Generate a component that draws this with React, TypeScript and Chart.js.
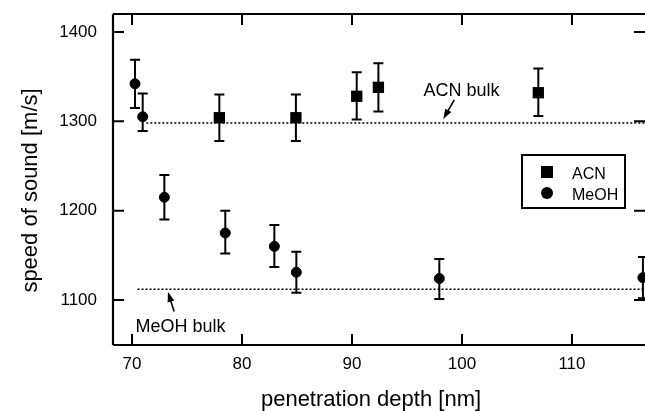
import React, { useEffect, useRef } from "react";
import { Chart, registerables } from "chart.js";
Chart.register(...registerables);

const X_TICKS = [70, 80, 90, 100, 110];
const Y_TICKS = [1100, 1200, 1300, 1400];
const X_MIN = 68.27;
const X_MAX = 116.64;
const Y_MIN = 1049.6;
const Y_MAX = 1420.1;

const ACN_X = [77.94, 84.9, 90.43, 92.4, 106.94];
const ACN_Y = [1304, 1304, 1328, 1338, 1332];
const ACN_HI = [1330, 1330, 1355, 1365, 1359];
const ACN_LO = [1278, 1278, 1302, 1311, 1306];

const MEOH_X = [70.27, 70.97, 72.94, 78.48, 82.94, 84.94, 97.94, 116.45];
const MEOH_Y = [1342, 1305, 1215, 1175, 1160, 1131, 1124, 1125];
const MEOH_HI = [1369, 1331, 1240, 1200, 1184, 1154, 1146, 1148];
const MEOH_LO = [1315, 1289, 1190, 1152, 1137, 1108, 1101, 1102];

const ACN_BULK_X = [71.3, 116.64];
const ACN_BULK_Y = [1298, 1298];
const MEOH_BULK_X = [70.5, 116.64];
const MEOH_BULK_Y = [1112, 1112];

const LABELS = ["ACN bulk", "MeOH bulk"];
const LABEL_X = [99.95, 74.41];
const LABEL_Y = [1328, 1063.8];
const ARROW_TAIL_X = [99.3, 73.82];
const ARROW_TAIL_Y = [1324, 1087];
const ARROW_TIP_X = [98.3, 73.27];
const ARROW_TIP_Y = [1302.5, 1109];

const SERIES = ["ACN", "MeOH"];
const X_TITLE = "penetration depth [nm]";
const Y_TITLE = "speed of sound [m/s]";

const FONT = "'Liberation Sans', Arial, Helvetica, sans-serif";

const decorPlugin = {
  id: "decor",
  beforeDatasetsDraw(chart: any) {
    const { ctx, chartArea: a, scales } = chart;
    const x = scales.x;
    const y = scales.y;
    ctx.save();
    ctx.beginPath();
    ctx.rect(a.left, a.top, a.right - a.left, a.bottom - a.top);
    ctx.clip();
    ctx.strokeStyle = "#000";
    ctx.lineWidth = 2;
    const bars = (xs: number[], lo: number[], hi: number[]) => {
      xs.forEach((xv, i) => {
        const px = x.getPixelForValue(xv);
        const p1 = y.getPixelForValue(lo[i]);
        const p2 = y.getPixelForValue(hi[i]);
        ctx.beginPath();
        ctx.moveTo(px, p1);
        ctx.lineTo(px, p2);
        ctx.moveTo(px - 5, p1);
        ctx.lineTo(px + 5, p1);
        ctx.moveTo(px - 5, p2);
        ctx.lineTo(px + 5, p2);
        ctx.stroke();
      });
    };
    bars(ACN_X, ACN_LO, ACN_HI);
    bars(MEOH_X, MEOH_LO, MEOH_HI);
    ctx.restore();
  },
  afterDraw(chart: any) {
    const { ctx, chartArea: a, scales } = chart;
    const x = scales.x;
    const y = scales.y;
    ctx.save();
    ctx.strokeStyle = "#000";
    ctx.fillStyle = "#000";
    // frame (right edge falls just outside the picture)
    ctx.lineWidth = 2.2;
    ctx.beginPath();
    ctx.moveTo(a.left, a.top);
    ctx.lineTo(a.right, a.top);
    ctx.moveTo(a.left, a.top);
    ctx.lineTo(a.left, a.bottom);
    ctx.moveTo(a.left, a.bottom);
    ctx.lineTo(a.right, a.bottom);
    ctx.stroke();
    // inward ticks
    ctx.lineWidth = 2;
    const tl = 11;
    X_TICKS.forEach((v) => {
      const px = x.getPixelForValue(v);
      ctx.beginPath();
      ctx.moveTo(px, a.bottom);
      ctx.lineTo(px, a.bottom - tl);
      ctx.moveTo(px, a.top);
      ctx.lineTo(px, a.top + tl);
      ctx.stroke();
    });
    Y_TICKS.forEach((v) => {
      const py = y.getPixelForValue(v);
      ctx.beginPath();
      ctx.moveTo(a.left, py);
      ctx.lineTo(a.left + tl, py);
      ctx.moveTo(a.right, py);
      ctx.lineTo(a.right - tl, py);
      ctx.stroke();
    });
    // annotations
    ctx.font = `18px ${FONT}`;
    ctx.textAlign = "center";
    ctx.textBaseline = "alphabetic";
    LABELS.forEach((t, i) => {
      ctx.fillText(t, x.getPixelForValue(LABEL_X[i]), y.getPixelForValue(LABEL_Y[i]));
      const tx = x.getPixelForValue(ARROW_TAIL_X[i]);
      const ty = y.getPixelForValue(ARROW_TAIL_Y[i]);
      const hx = x.getPixelForValue(ARROW_TIP_X[i]);
      const hy = y.getPixelForValue(ARROW_TIP_Y[i]);
      const ang = Math.atan2(hy - ty, hx - tx);
      const L = 10;
      const W = 3.5;
      ctx.lineWidth = 1.6;
      ctx.beginPath();
      ctx.moveTo(tx, ty);
      ctx.lineTo(hx - Math.cos(ang) * L * 0.7, hy - Math.sin(ang) * L * 0.7);
      ctx.stroke();
      ctx.beginPath();
      ctx.moveTo(hx, hy);
      ctx.lineTo(hx - Math.cos(ang) * L - Math.sin(ang) * W, hy - Math.sin(ang) * L + Math.cos(ang) * W);
      ctx.lineTo(hx - Math.cos(ang) * L + Math.sin(ang) * W, hy - Math.sin(ang) * L - Math.cos(ang) * W);
      ctx.closePath();
      ctx.fill();
    });
    // legend
    const lx = a.right - 123;
    const ly = a.top + 141;
    ctx.lineWidth = 2;
    ctx.strokeRect(lx, ly, 103, 53);
    ctx.fillRect(lx + 19, ly + 11, 12, 12);
    ctx.beginPath();
    ctx.arc(lx + 25, ly + 38, 6, 0, Math.PI * 2);
    ctx.fill();
    ctx.font = `16px ${FONT}`;
    ctx.textAlign = "left";
    ctx.fillText(SERIES[0], lx + 50, ly + 24);
    ctx.fillText(SERIES[1], lx + 50, ly + 45);
    // axis titles
    ctx.font = `22px ${FONT}`;
    ctx.textAlign = "center";
    ctx.fillText(X_TITLE, 371, 406);
    ctx.save();
    ctx.translate(37, 190.5);
    ctx.rotate(-Math.PI / 2);
    ctx.fillText(Y_TITLE, 0, 0);
    ctx.restore();
    ctx.restore();
  },
};

export default function App() {
  const ref = useRef<HTMLCanvasElement | null>(null);
  useEffect(() => {
    if (!ref.current) return;
    const chart = new Chart(ref.current, {
      type: "scatter",
      data: {
        datasets: [
          {
            label: "ACN bulk line",
            type: "line",
            data: ACN_BULK_X.map((v, i) => ({ x: v, y: ACN_BULK_Y[i] })),
            borderColor: "#000",
            borderWidth: 1.5,
            borderDash: [2, 2],
            pointRadius: 0,
            fill: false,
          } as any,
          {
            label: "MeOH bulk line",
            type: "line",
            data: MEOH_BULK_X.map((v, i) => ({ x: v, y: MEOH_BULK_Y[i] })),
            borderColor: "#000",
            borderWidth: 1.5,
            borderDash: [2, 2],
            pointRadius: 0,
            fill: false,
          } as any,
          {
            label: SERIES[0],
            data: ACN_X.map((v, i) => ({ x: v, y: ACN_Y[i] })),
            pointStyle: "rect",
            pointRadius: 8,
            backgroundColor: "#000",
            borderColor: "#000",
            borderWidth: 0,
          },
          {
            label: SERIES[1],
            data: MEOH_X.map((v, i) => ({ x: v, y: MEOH_Y[i] })),
            pointStyle: "circle",
            pointRadius: 5,
            backgroundColor: "#000",
            borderColor: "#000",
            borderWidth: 1,
          },
        ],
      },
      options: {
        animation: false,
        responsive: false,
        maintainAspectRatio: false,
        layout: { autoPadding: false, padding: { top: 14, right: 0, left: 0, bottom: 0 } },
        plugins: { legend: { display: false }, tooltip: { enabled: false } },
        scales: {
          x: {
            type: "linear",
            min: X_MIN,
            max: X_MAX,
            afterFit: (s: any) => {
              s.height = 66;
              s.paddingLeft = 0;
              s.paddingRight = 0;
            },
            afterBuildTicks: (s: any) => {
              s.ticks = X_TICKS.map((v) => ({ value: v }));
            },
            grid: { display: false, drawTicks: false },
            border: { display: false },
            ticks: {
              padding: 9,
              color: "#000",
              font: { family: FONT, size: 17 },
              callback: (v: any) => String(v),
            },
          },
          y: {
            type: "linear",
            min: Y_MIN,
            max: Y_MAX,
            afterFit: (s: any) => {
              s.width = 113;
              s.paddingTop = 0;
              s.paddingBottom = 0;
            },
            afterBuildTicks: (s: any) => {
              s.ticks = Y_TICKS.map((v) => ({ value: v }));
            },
            grid: { display: false, drawTicks: false },
            border: { display: false },
            ticks: {
              padding: 16,
              color: "#000",
              font: { family: FONT, size: 17 },
              callback: (v: any) => String(v),
            },
          },
        },
      },
      plugins: [decorPlugin],
    });
    return () => chart.destroy();
  }, []);
  return (
    <div style={{ position: "fixed", left: 0, top: 0, width: 645, height: 411, background: "#fff" }}>
      <canvas ref={ref} width={645} height={411} style={{ display: "block" }} />
    </div>
  );
}
